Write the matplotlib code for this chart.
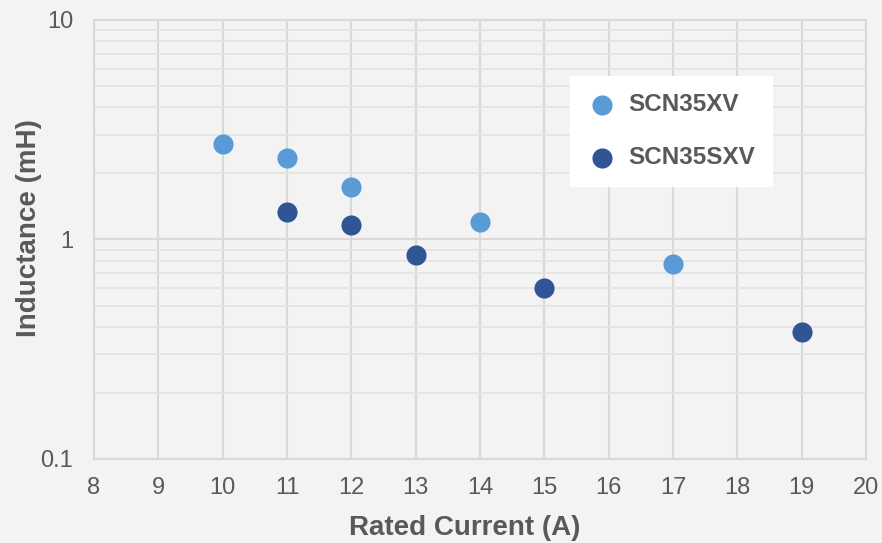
import matplotlib
matplotlib.use("Agg")
from matplotlib import pyplot as plt
from matplotlib.ticker import LogLocator, NullFormatter, FixedLocator, FixedFormatter
import numpy as np

plt.rcParams['font.family'] = ['Liberation Sans', 'DejaVu Sans']

# data
xv_current = [10, 11, 12, 14, 17]
xv_induct = [2.71, 2.34, 1.73, 1.20, 0.77]
sxv_current = [11, 12, 13, 15, 19]
sxv_induct = [1.34, 1.17, 0.85, 0.60, 0.38]
series_names = ["SCN35XV", "SCN35SXV"]
x_ticks = list(range(8, 21))
y_ticks = [0.1, 1, 10]
y_labels = ["0.1", "1", "10"]

bg = '#f3f3f3'
txt = '#595959'
grid_c = '#d9d9d9'

fig = plt.figure(figsize=(8.82, 5.43), dpi=100, facecolor=bg)
ax = fig.add_axes([0.1066, 0.1547, 0.8753, 0.8085], facecolor=bg)

ax.scatter(xv_current, xv_induct, s=210, color='#5b9bd5', label=series_names[0], zorder=3, linewidths=0)
ax.scatter(sxv_current, sxv_induct, s=210, color='#2f5597', label=series_names[1], zorder=3, linewidths=0)

ax.set_yscale('log')
ax.set_xlim(8, 20)
ax.set_ylim(0.1, 10)
ax.xaxis.set_major_locator(FixedLocator(x_ticks))
ax.yaxis.set_major_locator(FixedLocator(y_ticks))
ax.yaxis.set_major_formatter(FixedFormatter(y_labels))
ax.yaxis.set_minor_locator(LogLocator(base=10, subs=np.arange(2, 10)))
ax.yaxis.set_minor_formatter(NullFormatter())

ax.grid(True, which='major', color=grid_c, linewidth=1.5, zorder=0)
ax.grid(True, which='minor', axis='y', color='#e3e3e3', linewidth=1.2, zorder=0)
ax.set_axisbelow(True)
for s in ax.spines.values():
    s.set_color(grid_c)
    s.set_linewidth(1.5)

ax.tick_params(which='both', length=0, labelsize=17, labelcolor=txt)
ax.tick_params(axis='x', pad=13)
ax.tick_params(axis='y', pad=15)

ax.set_xlabel('Rated Current (A)', fontsize=20, fontweight='bold', color=txt, va='center')
ax.xaxis.set_label_coords(0.4806, -0.157)
ax.set_ylabel('Inductance (mH)', fontsize=20, fontweight='bold', color=txt, va='center')
ax.yaxis.set_label_coords(-0.0848, 0.526)

leg = ax.legend(loc='upper left', bbox_to_anchor=(0.6166, 0.8724), frameon=True, fancybox=False,
                facecolor='white', edgecolor='white', framealpha=1, labelspacing=1.25,
                borderpad=0.7, handlelength=1.2, handletextpad=0.5, borderaxespad=0,
                prop={'weight': 'bold', 'size': 17.5})
for t in leg.get_texts():
    t.set_color(txt)

fig.savefig('out.png', dpi=100, facecolor=bg)
